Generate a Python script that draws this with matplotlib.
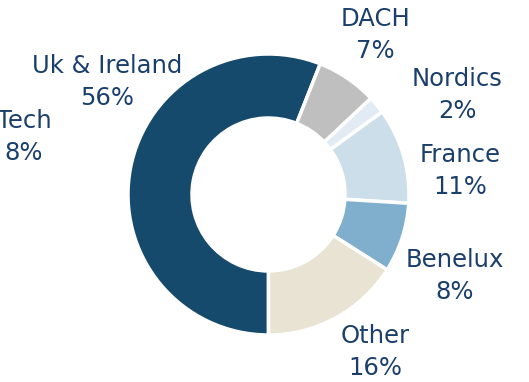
import matplotlib.pyplot as plt

regions = ['Uk & Ireland', 'DACH', 'Nordics', 'France', 'Benelux', 'Other']
shares = [56, 7, 2, 11, 8, 16]
colors = ['#164A6C', '#BFBFBF', '#E2EBF4', '#CCDEEA', '#80AFCD', '#E8E3D2']

# label anchor points (pixels from top-left)
label_xy = [(107.5, 82), (375.5, 35), (457.5, 95), (460.5, 171), (455, 276), (375, 352)]

W, H = 529, 382
fig = plt.figure(figsize=(W / 100, H / 100), dpi=100)
ax = fig.add_axes([0, 0, 1, 1])

ax.pie(shares, colors=colors, startangle=-90, counterclock=False,
       center=(268.5, H - 194.5), radius=140.5,
       wedgeprops=dict(width=64, edgecolor='white', linewidth=2.5))

# pie resets the limits, so set them afterwards
ax.set_xlim(0, W)
ax.set_ylim(0, H)
ax.set_aspect('equal')
ax.axis('off')

txt = '#1A3F6C'
font = dict(family='DejaVu Sans', fontsize=17.5, color=txt, ha='center',
            va='center', linespacing=1.45)
for name, val, (x, y) in zip(regions, shares, label_xy):
    ax.text(x, H - y, f'{name}\n{val}%', **font)

# partly hidden label from the neighbouring chart
ax.text(24, H - 137, 'Tech\n8%', **font)

fig.savefig('out.png', dpi=100)
